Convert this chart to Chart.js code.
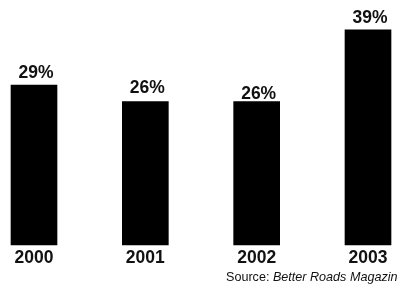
<!doctype html>
<html lang="en">

<head>
    <meta charset="utf-8">
    <title>Share by year</title>
    <script src="https://cdn.jsdelivr.net/npm/chart.js"></script>
    <style>
        html, body { margin: 0; padding: 0; background: #fff; }
        #wrap { width: 398px; height: 286px; }
    </style>
</head>

<body>
    <div id="wrap"><canvas id="yearChart"></canvas></div>

    <script>
        // chart data
        const years = ['2000', '2001', '2002', '2003'];
        const shares = [29, 26, 26, 39];
        const sourceLabel = 'Source: ';
        const sourceName = 'Better Roads Magazine';

        // small per-bar lift of the value labels (the original is uneven)
        const labelLift = [7, 9, 2.5, 7];

        // value labels above the bars
        const valueLabels = {
            id: 'valueLabels',
            afterDatasetsDraw(chart) {
                const ctx = chart.ctx;
                const bars = chart.getDatasetMeta(0).data;
                ctx.save();
                ctx.font = 'bold 17.5px "Liberation Sans", Arial, sans-serif';
                ctx.fillStyle = '#111';
                ctx.textAlign = 'center';
                ctx.textBaseline = 'alphabetic';
                bars.forEach((bar, i) => {
                    ctx.fillText(shares[i] + '%', bar.x + 2, bar.y - labelLift[i]);
                });
                ctx.restore();
            }
        };

        // source note, bottom right (runs off the edge like the original)
        const sourceNote = {
            id: 'sourceNote',
            afterDraw(chart) {
                const ctx = chart.ctx;
                ctx.save();
                ctx.fillStyle = '#111';
                ctx.textBaseline = 'alphabetic';
                ctx.font = '12.6px "Liberation Sans", Arial, sans-serif';
                const x = 226, y = 281;
                ctx.fillText(sourceLabel, x, y);
                const w = ctx.measureText(sourceLabel).width;
                ctx.font = 'italic 12.6px "Liberation Sans", Arial, sans-serif';
                ctx.fillText(sourceName, x + w, y);
                ctx.restore();
            }
        };

        new Chart(document.getElementById('yearChart'), {
            type: 'bar',
            data: {
                labels: years,
                datasets: [{
                    data: shares,
                    backgroundColor: '#000',
                    borderWidth: 0,
                    barThickness: 46,
                    clip: false
                }]
            },
            options: {
                responsive: true,
                maintainAspectRatio: false,
                animation: false,
                layout: { padding: { left: 34, right: 30, top: 0, bottom: 14 } },
                plugins: {
                    legend: { display: false },
                    tooltip: { enabled: false }
                },
                scales: {
                    x: {
                        offset: false,
                        grid: { display: false, drawTicks: false },
                        border: { display: false },
                        ticks: {
                            color: '#111',
                            padding: 3,
                            maxRotation: 0,
                            autoSkip: false,
                            font: { family: '"Liberation Sans", Arial, sans-serif', size: 17.5, weight: 'bold' }
                        }
                    },
                    y: {
                        display: false,
                        min: 0,
                        max: 44.4
                    }
                }
            },
            plugins: [valueLabels, sourceNote]
        });
    </script>
</body>

</html>
